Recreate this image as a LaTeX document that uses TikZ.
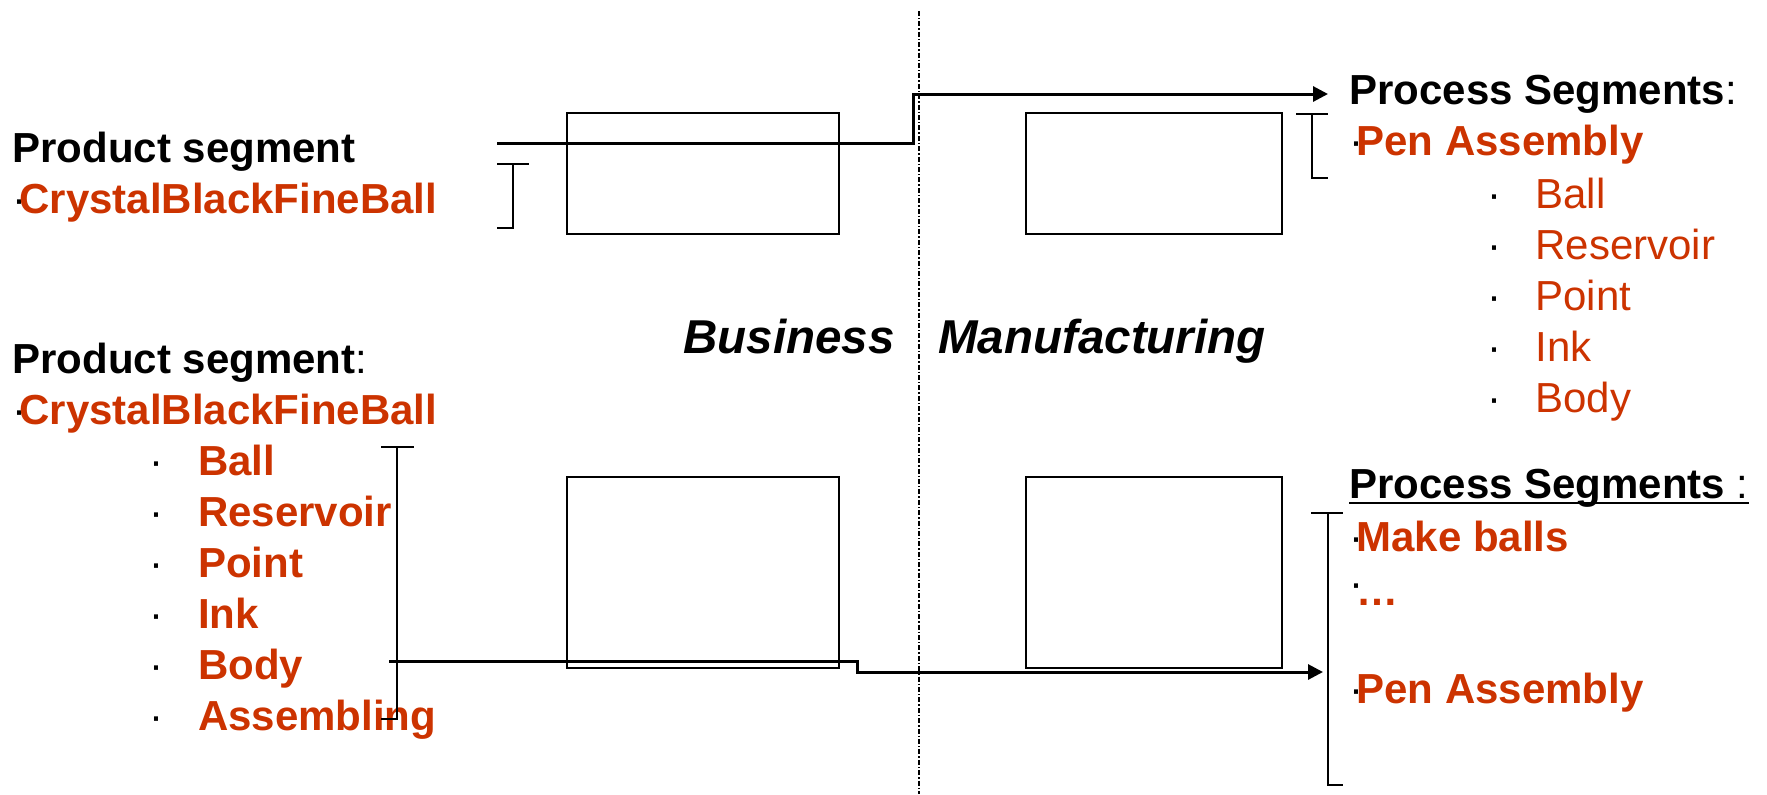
\documentclass[tikz,border=0pt]{standalone}
\usepackage{fontspec}
\setmainfont{Liberation Sans}
\usepackage{xcolor}
\usepackage{tikz}
\usetikzlibrary{arrows.meta,positioning}
\definecolor{segred}{RGB}{204,51,0}

\begin{document}
\begin{tikzpicture}[
    x=0.5pt, y=-0.5pt,
    node distance=25.5pt,
    panel/.style={rectangle, draw, line width=1pt, minimum width=136pt, minimum height=60.5pt, inner sep=0pt},
    head/.style={anchor=base west, inner sep=0pt, font=\fontsize{21}{25}\selectfont\bfseries},
    item/.style={head, text=segred},
    subitem/.style={item, font=\fontsize{21}{25}\selectfont\mdseries},
    side/.style={anchor=base, inner sep=0pt, font=\fontsize{23.75}{28}\selectfont\bfseries\itshape},
    flow/.style={line width=1.5pt, -{Triangle[length=7.5pt, width=7.5pt]}},
    brace/.style={line width=1pt}
]
    \useasboundingbox (0,0) rectangle (1767,794);

    % boxes
    \node[panel] (bizA) at (703,173.5) {};
    \node[panel, minimum width=128pt] (manA) at (1154,173.5) {};
    \node[panel, minimum height=95.5pt] (bizB) at (703,572.5) {};
    \node[panel, minimum width=128pt, minimum height=95.5pt] (manB) at (1154,572.5) {};

    % separator
    \coordinate (sepT) at (919,11);
    \coordinate (sepB) at (919,794);
    \draw[line width=0.9pt, dash pattern={on 2.5pt off 1pt on 0.7pt off 1pt}] (sepT) -- (sepB);
    \node[side] (biz) at (789,353) {Business};
    \node[side] (man) at (1102,353) {Manufacturing};

    % left texts
    \node[head] (prodA) at (12,162) {Product segment};
    \node[item, below=of prodA.base west, anchor=base west] (crysA) {\textcolor{black}{\mdseries·}\kern-3.5pt CrystalBlackFineBall};

    \node[head] (prodB) at (12,373) {Product segment\mdseries:};
    \node[item, below=of prodB.base west, anchor=base west] (crysB) {\textcolor{black}{\mdseries·}\kern-3.5pt CrystalBlackFineBall};
    \node[item, below right=25.5pt and 68.5pt of crysB.base west, anchor=base west] (lball) {\textcolor{black}{\mdseries·}\hspace{17.4pt}Ball};
    \node[item, below=of lball.base west, anchor=base west] (lres) {\textcolor{black}{\mdseries·}\hspace{17.4pt}Reservoir};
    \node[item, below=of lres.base west, anchor=base west] (lpoint) {\textcolor{black}{\mdseries·}\hspace{17.4pt}Point};
    \node[item, below=of lpoint.base west, anchor=base west] (link) {\textcolor{black}{\mdseries·}\hspace{17.4pt}Ink};
    \node[item, below=of link.base west, anchor=base west] (lbody) {\textcolor{black}{\mdseries·}\hspace{17.4pt}Body};
    \node[item, below=of lbody.base west, anchor=base west] (lassy) {\textcolor{black}{\mdseries·}\hspace{17.4pt}Assembling};

    % right texts
    \node[head] (procA) at (1349,104) {Process Segments\mdseries:};
    \node[item, below=of procA.base west, anchor=base west] (penA) {\textcolor{black}{\mdseries·}\kern-3.5pt Pen Assembly};
    \node[subitem, below right=26.5pt and 69pt of penA.base west, anchor=base west] (rball) {\textcolor{black}{·}\hspace{17pt}Ball};
    \node[subitem, below=of rball.base west, anchor=base west] (rres) {\textcolor{black}{·}\hspace{17pt}Reservoir};
    \node[subitem, below=of rres.base west, anchor=base west] (rpoint) {\textcolor{black}{·}\hspace{17pt}Point};
    \node[subitem, below=of rpoint.base west, anchor=base west] (rink) {\textcolor{black}{·}\hspace{17pt}Ink};
    \node[subitem, below=of rink.base west, anchor=base west] (rbody) {\textcolor{black}{·}\hspace{17pt}Body};

    \node[head] (procB) at (1349,498) {Process Segments \mdseries:};
    \draw[line width=1.3pt] ([yshift=-2.5pt]procB.base west) -- ([yshift=-2.5pt]procB.base east);
    \node[item, below=26.5pt of procB.base west, anchor=base west] (make) {\textcolor{black}{\mdseries·}\kern-3.5pt Make balls};
    \node[item, below=27.2pt of make.base west, anchor=base west] (more) {\textcolor{black}{\mdseries\raisebox{4pt}{·}}\kern-3.5pt\dots};
    \node[item, below=48.8pt of more.base west, anchor=base west] (penB) {\textcolor{black}{\mdseries·}\kern-3.5pt Pen Assembly};

    % brackets
    \draw[brace] (497,164) -- (529,164) (513,164) -- (513,228) -- (497,228);
    \draw[brace] (1296,114) -- (1328,114) (1312,114) -- (1312,178) -- (1328,178);
    \draw[brace] (381,447) -- (414,447) (397,447) -- (397,719) -- (381,719);
    \draw[brace] (1311,513) -- (1343,513) (1328,513) -- (1328,785) -- (1343,785);

    % flows
    \coordinate (topsrc) at (497,143);
    \coordinate (topdst) at (1328,94);
    \coordinate (botsrc) at (389,661);
    \coordinate (botdst) at (1323,672);
    \draw[flow] (topsrc) -- ++(416,0) |- (topdst);
    \draw[flow] (botsrc) -- ++(468,0) |- (botdst);
\end{tikzpicture}
\end{document}
